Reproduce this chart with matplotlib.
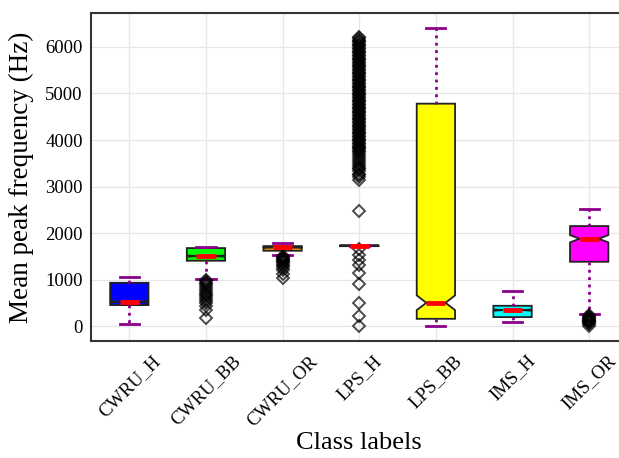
import matplotlib
matplotlib.use("Agg")
import matplotlib.pyplot as plt

plt.rcParams['font.family'] = ['Liberation Serif', 'DejaVu Serif']

# class names and box statistics (Hz)
labels = ['CWRU_H', 'CWRU_BB', 'CWRU_OR', 'LPS_H', 'LPS_BB', 'IMS_H', 'IMS_OR']
whislo = [40, 1018, 1520, 1715, 0, 86, 251]
q1 = [452, 1405, 1620, 1718, 157, 194, 1383]
med = [523, 1505, 1692, 1727, 501, 344, 1878]
q3 = [931, 1677, 1720, 1735, 4781, 437, 2150]
whishi = [1047, 1706, 1792, 1740, 6415, 760, 2509]
cilo = [505, 1490, 1680, 1722, 344, 330, 1800]
cihi = [541, 1520, 1704, 1732, 660, 358, 1957]

fliers_cwru_bb = [990, 960, 930, 900, 860, 820, 780, 740, 700, 660, 620,
                  580, 540, 500, 440, 350, 170]
fliers_cwru_or = [1500, 1480, 1460, 1440, 1420, 1400, 1380, 1350, 1320,
                  1290, 1250, 1204, 1120, 1030]
fliers_lps_h = [0, 222, 501, 897, 1133, 1312, 1420, 1527, 1650, 2480,
                3150, 3200, 3240, 3280, 3330, 3370, 3400, 3450, 3490, 3520,
                3580, 3620, 3650, 3700, 3740, 3760, 3800, 3820, 3860, 3880,
                3920, 3940, 3980, 4000, 4030, 4060, 4090, 4120, 4150, 4180,
                4210, 4240, 4270, 4300, 4330, 4360, 4390, 4420, 4450, 4480,
                4510, 4540, 4570, 4600, 4630, 4660, 4690, 4720, 4750, 4780,
                4810, 4840, 4870, 4900, 4930, 4960, 4990, 5020, 5050, 5080,
                5110, 5140, 5170, 5200, 5230, 5260, 5290, 5320, 5350, 5380,
                5410, 5440, 5470, 5500, 5530, 5560, 5590, 5620, 5650, 5680,
                5710, 5740, 5770, 5800, 5830, 5860, 5890, 5920, 5950, 5980,
                6010, 6040, 6070, 6100, 6130, 6160, 6190, 6220]
fliers_ims_or = [240, 220, 200, 180, 160, 140, 120, 100, 80, 60, 40, 10]
fliers = [[], fliers_cwru_bb, fliers_cwru_or, fliers_lps_h, [], [], fliers_ims_or]

box_colors = ['blue', 'lime', 'orange', 'red', 'yellow', 'cyan', 'magenta']

stats = []
for i in range(len(labels)):
    stats.append(dict(label=labels[i], whislo=whislo[i], q1=q1[i], med=med[i],
                      q3=q3[i], whishi=whishi[i], cilo=cilo[i], cihi=cihi[i],
                      fliers=fliers[i]))

fig = plt.figure(figsize=(6.19, 4.58), dpi=100)
ax = fig.add_axes([91 / 619, 117 / 458, 536.5 / 619, 328 / 458])

bp = ax.bxp(stats, shownotches=True, patch_artist=True, widths=0.5,
            boxprops=dict(edgecolor='#222222', linewidth=1.3),
            whiskerprops=dict(color='#8B008B', linestyle=':', linewidth=2),
            capprops=dict(color='#8B008B', linewidth=2),
            medianprops=dict(color='red', linewidth=3.5),
            flierprops=dict(marker='D', markerfacecolor='none',
                            markeredgecolor='black', markersize=6,
                            markeredgewidth=1.4, alpha=0.7))
for patch, c in zip(bp['boxes'], box_colors):
    patch.set_facecolor(c)

ax.set_xlim(0.5, 7.5)
ax.set_ylim(-320, 6730)
ax.set_yticks([0, 1000, 2000, 3000, 4000, 5000, 6000])
ax.grid(True, color='#e6e6e6', linewidth=0.9)
ax.set_axisbelow(True)
ax.tick_params(axis='both', length=0, labelsize=13.5)
ax.tick_params(axis='x', pad=8)
ax.tick_params(axis='y', pad=6)
plt.setp(ax.get_xticklabels(), rotation=45, ha='center')
for s in ax.spines.values():
    s.set_color('#333333')
    s.set_linewidth(1.5)

ax.set_ylabel('Mean peak frequency (Hz)', fontsize=19.5, labelpad=8)
ax.set_xlabel('Class labels', fontsize=19, labelpad=2)

fig.savefig('out.png', dpi=100)
